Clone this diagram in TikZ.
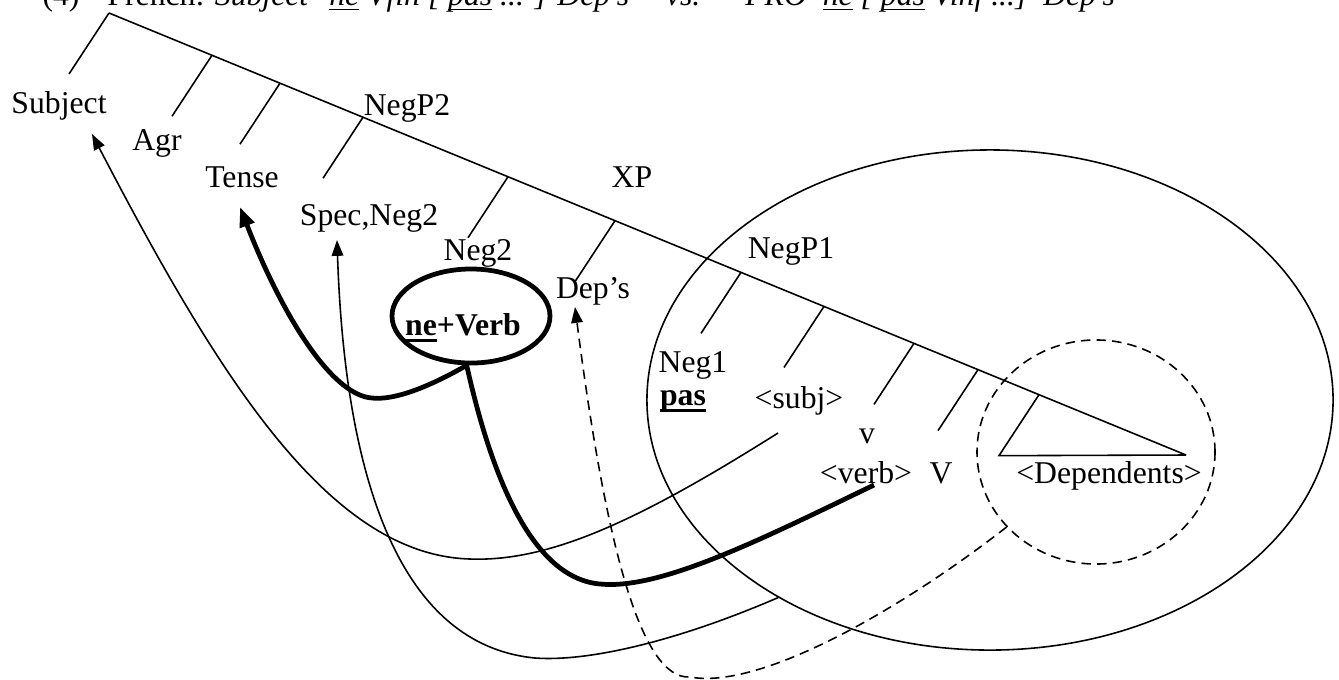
\documentclass[tikz,border=0pt]{standalone}
\usepackage{fontspec}
\setmainfont{Liberation Serif}
\usetikzlibrary{calc,arrows.meta,shapes.geometric}

\newcommand{\ulin}[1]{\setbox0=\hbox{#1}\rlap{\rule[-2pt]{\wd0}{0.6pt}}\box0\relax}
\newcommand{\ulbold}[1]{\setbox0=\hbox{#1}\rlap{\rule[-2.3pt]{\wd0}{1.1pt}}\box0\relax}

\begin{document}
\begin{tikzpicture}[x=0.3785pt,y=-0.3785pt,font=\fontsize{12pt}{14pt}\selectfont,
  lbl/.style={inner sep=0pt,text height=8pt,text depth=0pt},
  thin/.style={line width=0.6pt},
  fat/.style={line width=1.8pt,line join=round},
  tip/.style={-{Triangle[length=6pt,width=4.4pt]}},
  bigtip/.style={-{Triangle[length=7.5pt,width=5.6pt]}},
  dsh/.style={dash pattern=on 3.6pt off 2.3pt}]
\useasboundingbox (0,0) rectangle (1339,679);

% heading line, its upper half lies above the page
\node[anchor=base west,inner sep=0pt] (heading) at (42,5) {(4)\hspace{10.6pt}French: \textit{Subject\hspace{8pt}\ulin{ne} Vfin [ \ulin{pas} ... ] Dep’s\hspace{14pt}vs.\hspace{17pt}PRO\hspace{6pt}\ulin{ne} [ \ulin{pas} Vinf ...]\hspace{6pt}Dep’s}};

% spine with its branches
\coordinate (apex) at (109,13);
\coordinate (spineend) at (1186,455);
\draw[thin] (apex) -- (spineend);
\foreach \x in {109,212,280,363,508,615,741,824,914,978}
  \draw[thin] ($(apex)!{(\x-109)/1077}!(spineend)$) -- ++(-40,61);
\draw[thin] ($(apex)!{(1039-109)/1077}!(spineend)$) -- ++(-40,61) -- (spineend);

% labels
\node[lbl] (subject) at (59,103) {Subject};
\node[lbl] (agr) at (157,140) {Agr};
\node[lbl] (tense) at (242,177) {Tense};
\node[lbl] (negptwo) at (407,105) {NegP2};
\node[lbl] (specneg) at (369,215) {Spec,Neg2};
\node[lbl] (negtwo) at (478,250) {Neg2};
\node[lbl] (xp) at (632,177) {XP};
\node[lbl] (deps) at (593,288) {Dep’s};
\node[lbl] (negpone) at (791,248) {NegP1};
\node[lbl] (negone) at (693,362) {Neg1};
\node[lbl] (pas) at (683,395) {\bfseries\ulbold{pas}};
\node[lbl] (subj) at (799,398) {\textless subj\textgreater};
\node[lbl] (vlow) at (867,433) {v};
\node[lbl] (verb) at (866,473) {\textless verb\textgreater};
\node[lbl] (bigv) at (941,473) {V};
\node[lbl] (dependents) at (1109,473) {\textless Dependents\textgreater};

% circled constituents
\node[ellipse,draw,line width=1.8pt,minimum width=59.8pt,minimum height=35.6pt,inner sep=0pt] (neverb) at (471,316) {};
\node[lbl] (neverbtxt) at (463,325) {\bfseries\ulbold{ne}+Verb};
\node[ellipse,draw,thin,minimum width=259.7pt,minimum height=189.3pt,inner sep=0pt] (bigring) at (990,400) {};
\node[ellipse,draw,thin,dsh,minimum width=90.1pt,minimum height=84.8pt,inner sep=0pt] (depring) at (1096,452) {};

% movement paths
\coordinate (subjfoot) at (778,433);
\coordinate (subjhead) at (92,134);
\coordinate (spechead) at (337,240);
\coordinate (verbfoot) at (874,485);
\coordinate (tensehead) at (240,207);
\coordinate (dephead) at (575,307);

\draw[thin,tip] (subjfoot) .. controls (640,520) and (550,562) .. (470,559)
  .. controls (330,555) and (220,380) .. (subjhead);
\draw[thin,tip] (bigring.223) .. controls (680,640) and (590,662) .. (535,658)
  .. controls (400,645) and (345,480) .. (spechead);
\draw[fat,bigtip] (verbfoot) .. controls (760,540) and (660,590) .. (600,584)
  .. controls (530,578) and (490,470) .. (neverb.265)
  .. controls (420,392) and (390,400) .. (372,398)
  .. controls (330,395) and (280,310) .. (tensehead);
\draw[thin,dsh,tip] (depring.220) .. controls (900,610) and (760,690) .. (690,677)
  .. controls (640,680) and (605,540) .. (dephead);
\end{tikzpicture}
\end{document}
